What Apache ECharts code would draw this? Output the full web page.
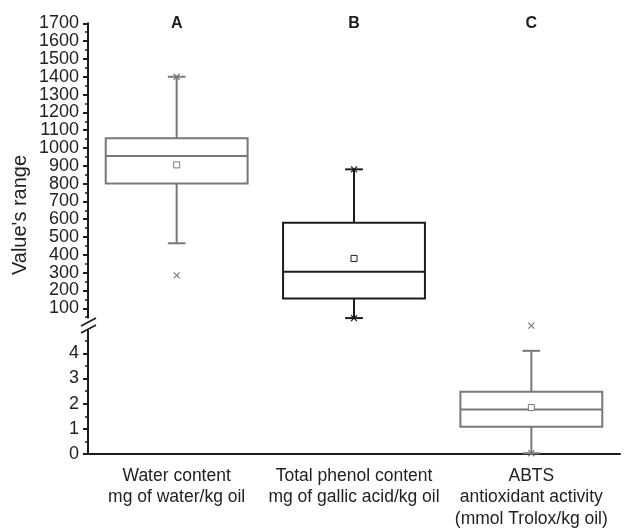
<!DOCTYPE html>
<html>
<head>
<meta charset="utf-8">
<script src="https://cdn.jsdelivr.net/npm/echarts@6/dist/echarts.min.js"></script>
<style>
html, body { margin: 0; padding: 0; background: #fff; }
#chart { width: 627px; height: 530px; }
</style>
</head>
<body>
<div id="chart"></div>
<script>
// Catégories et libellés
const categories = [
    'Water content\nmg of water/kg oil',
    'Total phenol content\nmg of gallic acid/kg oil',
    'ABTS\nantioxidant activity\n(mmol Trolox/kg oil)'
];
const letters = ['A', 'B', 'C'];
const upperTicks = [100, 200, 300, 400, 500, 600, 700, 800, 900, 1000, 1100, 1200, 1300, 1400, 1500, 1600, 1700];
const lowerTicks = [0, 1, 2, 3, 4];

// Statistiques des boîtes
const whiskerLow = [465, 45, 0.03];
const q1 = [800, 155, 1.08];
const median = [955, 305, 1.77];
const q3 = [1055, 580, 2.47];
const whiskerHigh = [1400, 880, 4.1];
const mean = [905, 380, 1.85];
const minPoint = [285, 45, 0.03];
const maxPoint = [1400, 880, 5.1];
// 0 = échelle haute, 1 = échelle basse
const panel = [0, 0, 1];

const boxColors = ['#787878', '#1c1c1c', '#787878'];
const font = "'Liberation Sans', Arial, sans-serif";
const axisColor = '#1c1c1c';

function rows(p)
{
    const out = [];
    categories.forEach((c, i) => {
        if (panel[i] === p)
            out.push([i, whiskerLow[i], q1[i], median[i], q3[i], whiskerHigh[i], mean[i], minPoint[i], maxPoint[i]]);
    });
    return out;
}

function renderBox(params, api)
{
    const i = api.value(0);
    const color = boxColors[i];
    const cx = api.coord([i, api.value(3)])[0];
    const band = api.size([1, 0])[0];
    const w = band * 0.8;
    const cap = band * 0.05;
    const y = k => api.coord([i, api.value(k)])[1];
    const line = (x1, y1, x2, y2, lw) => ({
        type: 'line',
        shape: { x1, y1, x2, y2 },
        style: { stroke: color, lineWidth: lw || 2 }
    });
    const cross = (cy, s) => [
        line(cx - s, cy - s, cx + s, cy + s, 1.2),
        line(cx - s, cy + s, cx + s, cy - s, 1.2)
    ];
    const yLo = y(1), yQ1 = y(2), yMed = y(3), yQ3 = y(4), yHi = y(5);
    const children = [
        line(cx, yLo, cx, yQ1),
        line(cx, yQ3, cx, yHi),
        line(cx - cap, yLo, cx + cap, yLo),
        line(cx - cap, yHi, cx + cap, yHi),
        {
            type: 'rect',
            shape: { x: cx - w / 2, y: yQ3, width: w, height: yQ1 - yQ3 },
            style: { stroke: color, fill: '#fff', lineWidth: 2 }
        },
        line(cx - w / 2, yMed, cx + w / 2, yMed),
        {
            type: 'rect',
            shape: { x: cx - 3, y: y(6) - 3, width: 6, height: 6 },
            style: { stroke: color, fill: '#fff', lineWidth: 1 }
        }
    ].concat(cross(y(7), 3), cross(y(8), 3));
    return { type: 'group', children };
}

const chart = echarts.init(document.getElementById('chart'));

chart.setOption({
    animation: false,
    textStyle: { fontFamily: font },
    grid: [
        { left: 88, right: 7, top: 23.3, bottom: 203.9 },
        { left: 88, right: 7, top: 330.7, bottom: 76 }
    ],
    xAxis: [
        {
            type: 'category', gridIndex: 0, position: 'top', data: letters,
            axisLine: { show: false }, axisTick: { show: false },
            axisLabel: { margin: 0, verticalAlign: 'middle', fontWeight: 'bold', fontSize: 16, color: '#1c1c1c', fontFamily: font }
        },
        {
            type: 'category', gridIndex: 1, data: categories,
            axisLine: { lineStyle: { color: axisColor, width: 2 } },
            axisTick: { alignWithLabel: true, length: 6, lineStyle: { color: axisColor, width: 2 } },
            axisLabel: { interval: 0, margin: 11, fontSize: 17.5, lineHeight: 21.5, color: '#222', fontFamily: font }
        }
    ],
    yAxis: [
        {
            type: 'value', gridIndex: 0, min: 0, max: 1700, interval: 100,
            axisLine: { show: true, lineStyle: { color: axisColor, width: 2 } },
            axisTick: { show: true, length: 5, customValues: upperTicks, lineStyle: { color: axisColor, width: 2 } },
            minorTick: { show: true, splitNumber: 2, length: 3, lineStyle: { color: axisColor, width: 1.5 } },
            axisLabel: { customValues: upperTicks, formatter: v => String(v), margin: 9, fontSize: 18, color: '#222', fontFamily: font },
            splitLine: { show: false }
        },
        {
            type: 'value', gridIndex: 1, min: 0, max: 4.9, interval: 1,
            axisLine: { show: true, lineStyle: { color: axisColor, width: 2 } },
            axisTick: { show: true, length: 5, customValues: lowerTicks, lineStyle: { color: axisColor, width: 2 } },
            minorTick: { show: true, splitNumber: 2, length: 3, lineStyle: { color: axisColor, width: 1.5 } },
            axisLabel: { customValues: lowerTicks, formatter: v => String(v), margin: 9, fontSize: 18, color: '#222', fontFamily: font },
            splitLine: { show: false }
        }
    ],
    series: [
        {
            type: 'custom', xAxisIndex: 0, yAxisIndex: 0, renderItem: renderBox,
            encode: { x: 0, y: [1, 2, 3, 4, 5] }, data: rows(0)
        },
        {
            type: 'custom', xAxisIndex: 1, yAxisIndex: 1, renderItem: renderBox,
            encode: { x: 0, y: [1, 2, 3, 4, 5] }, data: rows(1)
        }
    ],
    graphic: [
        // Coupure de l'axe vertical
        { type: 'rect', shape: { x: 84, y: 318.5, width: 8, height: 11.5 }, style: { fill: '#fff' }, z: 100 },
        { type: 'line', shape: { x1: 81, y1: 326, x2: 96, y2: 318 }, style: { stroke: axisColor, lineWidth: 1.6 }, z: 101 },
        { type: 'line', shape: { x1: 81, y1: 333, x2: 96, y2: 325 }, style: { stroke: axisColor, lineWidth: 1.6 }, z: 101 },
        {
            type: 'text', x: 20, y: 215, rotation: Math.PI / 2,
            style: { text: "Value's range", font: '20px ' + font, fill: '#222', textAlign: 'center', textVerticalAlign: 'middle' }
        }
    ]
});
</script>
</body>
</html>
